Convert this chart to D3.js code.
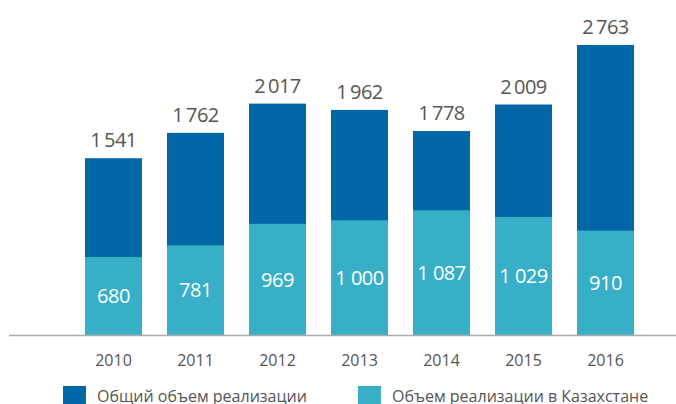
<!DOCTYPE html>
<html>
<head>
<meta charset="utf-8">
<script src="https://cdn.jsdelivr.net/npm/d3@7"></script>
<style>
  body { margin: 0; background: #fff; }
  svg text { font-family: "Open Sans", "Noto Sans", sans-serif; }
</style>
</head>
<body>
<script>
// data
var years = ["2010", "2011", "2012", "2013", "2014", "2015", "2016"];
var total = [1541, 1762, 2017, 1962, 1778, 2009, 2763];
var kazakhstan = [680, 781, 969, 1000, 1087, 1029, 910];
var legendLabels = ["Общий объем реализации", "Объем реализации в Казахстане"];

var width = 676, height = 404;
var dark = "#0066a6", light = "#37afc6";

var svg = d3.select("body").append("svg")
    .attr("width", width)
    .attr("height", height);

var x = d3.scaleBand()
    .domain(years)
    .range([85, 634])
    .paddingInner(0.305);

// the 2016 bar is cut short in the original, so clamp the scale
var y = d3.scaleLinear()
    .domain([0, 2528])
    .range([335, 45])
    .clamp(true);

var rows = years.map(function (yr, i) {
    return {year: yr, total: total[i], kz: kazakhstan[i]};
});

// total bars
svg.selectAll("rect.total")
    .data(rows)
    .enter().append("rect")
    .attr("class", "total")
    .attr("x", function (d) { return x(d.year); })
    .attr("y", function (d) { return y(d.total); })
    .attr("width", x.bandwidth())
    .attr("height", function (d) { return y(0) - y(d.total); })
    .attr("fill", dark);

// kazakhstan part
svg.selectAll("rect.kz")
    .data(rows)
    .enter().append("rect")
    .attr("class", "kz")
    .attr("x", function (d) { return x(d.year); })
    .attr("y", function (d) { return y(d.kz); })
    .attr("width", x.bandwidth())
    .attr("height", function (d) { return y(0) - y(d.kz); })
    .attr("fill", light);

function fmt(v, sep) {
    var s = String(v);
    return s.length > 3 ? s.slice(0, s.length - 3) + sep + s.slice(-3) : s;
}

svg.selectAll("text.total")
    .data(rows)
    .enter().append("text")
    .attr("class", "total")
    .attr("x", function (d) { return x(d.year) + x.bandwidth() / 2; })
    .attr("y", function (d) { return y(d.total) - 11; })
    .attr("text-anchor", "middle")
    .attr("font-size", 20)
    .attr("letter-spacing", -0.5)
    .attr("fill", "#555")
    .text(function (d) { return fmt(d.total, "\u2009"); });

svg.selectAll("text.kz")
    .data(rows)
    .enter().append("text")
    .attr("class", "kz")
    .attr("x", function (d) { return x(d.year) + x.bandwidth() / 2; })
    .attr("y", function (d) { return (y(d.kz) + y(0)) / 2; })
    .attr("dy", "0.36em")
    .attr("text-anchor", "middle")
    .attr("font-size", 20)
    .attr("letter-spacing", -0.5)
    .attr("fill", "#fff")
    .text(function (d) { return fmt(d.kz, " "); });

// baseline
svg.append("line")
    .attr("x1", 9).attr("x2", width)
    .attr("y1", 335.5).attr("y2", 335.5)
    .attr("stroke", "#aaa")
    .attr("stroke-width", 1.5);

// x axis labels
var xAxis = svg.append("g")
    .attr("transform", "translate(0,335)")
    .call(d3.axisBottom(x).tickSize(0).tickPadding(20));
xAxis.select(".domain").remove();
xAxis.selectAll("text")
    .attr("font-size", 16)
    .attr("fill", "#555")
    .style("font-family", "'Open Sans', sans-serif");

// legend
var legend = svg.selectAll("g.legend")
    .data(legendLabels)
    .enter().append("g")
    .attr("class", "legend")
    .attr("transform", function (d, i) { return "translate(" + [63, 358][i] + ",386)"; });
legend.append("rect")
    .attr("width", 23)
    .attr("height", 23)
    .attr("fill", function (d, i) { return [dark, light][i]; });
legend.append("text")
    .attr("x", 34)
    .attr("y", 16)
    .attr("font-size", 16)
    .attr("fill", "#555")
    .text(function (d) { return d; });
</script>
</body>
</html>
